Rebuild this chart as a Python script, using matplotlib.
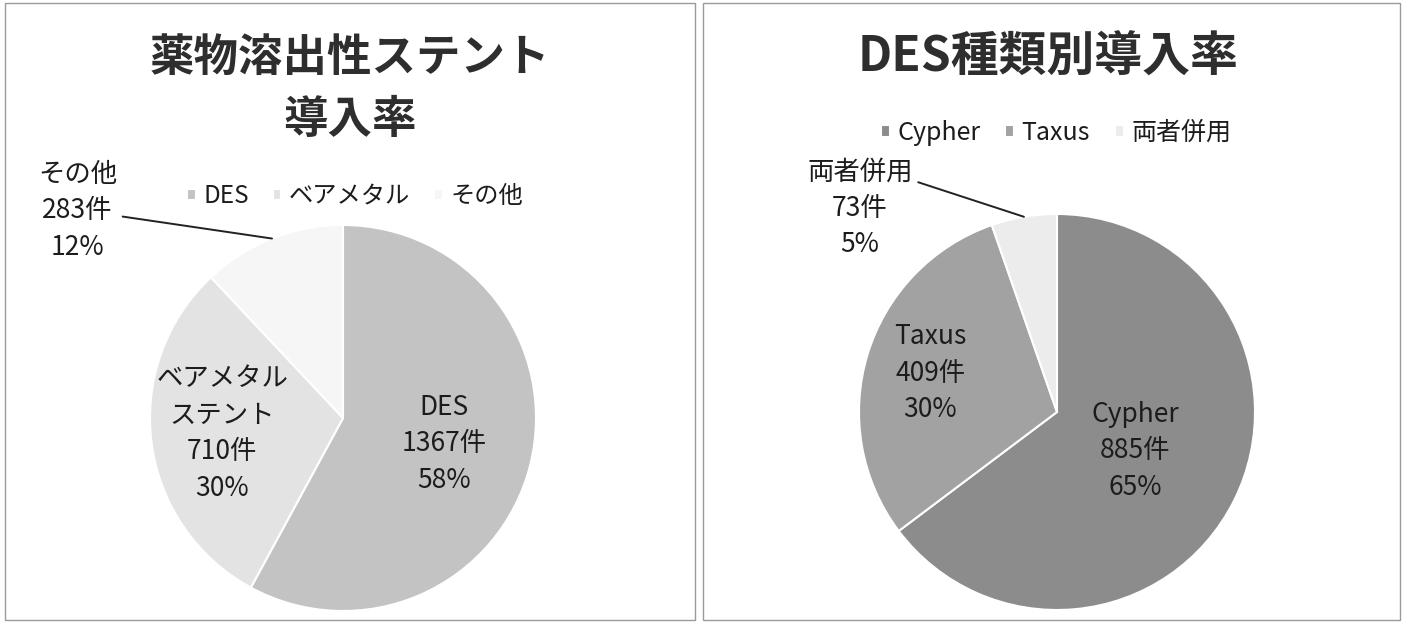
import numpy as np
import matplotlib
matplotlib.use("Agg")
import matplotlib.pyplot as plt
from matplotlib.patches import Rectangle

plt.rcParams['font.family'] = ['Noto Sans CJK JP', 'DejaVu Sans']

W, H = 1405, 622

# ─── データ ────────────────────────────────────────────────
stent_title = "薬物溶出性ステント\n導入率"
stent_legend = ["DES", "ベアメタル", "その他"]
stent_names = ["DES", "ベアメタル\nステント", "その他"]
stent_counts = [1367, 710, 283]

des_title = "DES種類別導入率"
des_legend = ["Cypher", "Taxus", "両者併用"]
des_names = ["Cypher", "Taxus", "両者併用"]
des_counts = [885, 409, 73]

STENT_COLORS = ["#c3c3c3", "#e3e3e3", "#f6f6f6"]
DES_COLORS = ["#8c8c8c", "#a2a2a2", "#ececec"]
TEXT = "#1c1c1c"
LABEL_FS = 19


def px_box(cx, cy, r):
    """ピクセル座標(上原点)の円から axes 位置を作る"""
    return [(cx - r) / W, (H - cy - r) / H, 2 * r / W, 2 * r / H]


def draw_pie(fig, box, counts, names, colors, dists, outside, offset, relpos):
    ax = fig.add_axes(box)
    wedges, _ = ax.pie(counts, colors=colors, startangle=90, counterclock=False,
                       wedgeprops=dict(edgecolor="white", linewidth=1.5))
    ax.set_xlim(-1, 1)
    ax.set_ylim(-1, 1)
    ax.set_aspect("equal")
    ax.axis("off")
    total = sum(counts)
    for i, (w, n, c) in enumerate(zip(wedges, names, counts)):
        pct = round(100 * c / total)
        txt = f"{n}\n{c}件\n{pct}%"
        ang = np.deg2rad((w.theta1 + w.theta2) / 2)
        if i == outside:
            ax.annotate(txt, xy=(np.cos(ang), np.sin(ang)), xytext=offset,
                        textcoords="offset points", ha="center", va="center",
                        fontsize=LABEL_FS, color=TEXT, linespacing=1.45,
                        arrowprops=dict(arrowstyle="-", color="#222",
                                        lw=1.4, relpos=relpos,
                                        shrinkA=2, shrinkB=0))
        else:
            d = dists[i]
            ax.text(d * np.cos(ang), d * np.sin(ang), txt, ha="center",
                    va="center", fontsize=LABEL_FS, color=TEXT, linespacing=1.45)
    return ax, wedges


fig = plt.figure(figsize=(W / 100, H / 100), dpi=100)
fig.patch.set_facecolor("white")

# パネル枠
for x0, x1 in [(5, 695), (703, 1400)]:
    fig.patches.append(Rectangle((x0 / W, 2 / H), (x1 - x0) / W, 617 / H,
                                 transform=fig.transFigure, fill=False,
                                 edgecolor="#9a9a9a", linewidth=1.0))

# 左パネル
ax1, w1 = draw_pie(fig, px_box(343, 418, 193), stent_counts, stent_names,
                   STENT_COLORS, [0.54, 0.63, None], 2, (-140, 20), (1, 0.45))
fig.text(350 / W, 1 - 89 / H, stent_title, ha="center", va="center",
         fontsize=32, fontweight="bold", color="#2e2e2e", linespacing=1.45)
ax1.legend(w1, stent_legend, loc="center", bbox_to_anchor=(355 / W, 1 - 196 / H),
           bbox_transform=fig.transFigure, ncol=3, frameon=False, fontsize=17.5,
           handlelength=0.35, handleheight=0.35, handletextpad=0.3,
           columnspacing=1.0, labelcolor=TEXT)

# 右パネル
ax2, w2 = draw_pie(fig, px_box(1057, 412, 198), des_counts, des_names,
                   DES_COLORS, [0.44, 0.67, None], 2, (-118, 6), (1, 0.78))
fig.text(1048 / W, 1 - 57 / H, des_title, ha="center", va="center",
         fontsize=34.5, fontweight="bold", color="#2e2e2e")
ax2.legend(w2, des_legend, loc="center", bbox_to_anchor=(1056 / W, 1 - 133 / H),
           bbox_transform=fig.transFigure, ncol=3, frameon=False, fontsize=18,
           handlelength=0.35, handleheight=0.35, handletextpad=0.3,
           columnspacing=1.0, labelcolor=TEXT)

fig.savefig("out.png", dpi=100)
